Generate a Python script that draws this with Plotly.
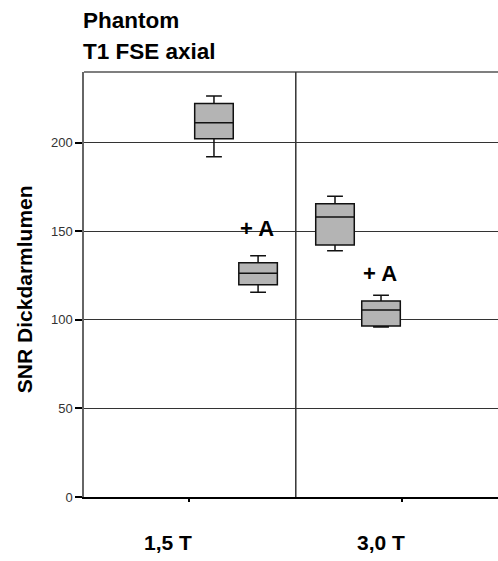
import plotly.graph_objects as go

# ---- data ----
categories = ["1,5 T", "3,0 T"]
groups = ["ohne KM", "+ A"]
box_category = [0, 0, 1, 1]
box_group = [0, 1, 0, 1]
lower_whisker = [192.1, 115.6, 139.1, 96.0]
q1_values = [202.3, 119.9, 142.3, 96.6]
median_values = [211.3, 126.3, 158.1, 105.6]
q3_values = [222.2, 132.3, 165.6, 110.7]
upper_whisker = [226.5, 136.3, 169.9, 113.9]
y_ticks = [0, 50, 100, 150, 200]
label_A = "+ A"
label_A_y = [151.5, 126.0]
title_lines = ["Phantom", "T1 FSE axial"]
y_title = "SNR Dickdarmlumen"

# ---- layout constants ----
box_offsets = [[0.116, 0.323], [-0.316, -0.100]]
label_A_offsets = [0.318, -0.105]
cat_label_offset = -0.1
W, H = 498, 561
ML, MR, MT, MB = 84, 0, 72, 64
FONT = "Liberation Sans, Arial, sans-serif"

box_x = [box_category[i] + box_offsets[box_category[i]][box_group[i]] for i in range(4)]

fig = go.Figure()
fig.add_trace(go.Box(
    x=box_x,
    q1=q1_values, median=median_values, q3=q3_values,
    lowerfence=lower_whisker, upperfence=upper_whisker,
    width=0.181, whiskerwidth=0.41,
    fillcolor="#b4b4b4",
    line=dict(color="#111111", width=1.5),
    boxpoints=False, hoverinfo="skip", showlegend=False,
))

annotations = []
# "+ A" labels
for c in range(2):
    annotations.append(dict(
        x=c + label_A_offsets[c], y=label_A_y[c], xref="x", yref="y",
        text="<b>%s</b>" % label_A, showarrow=False, xanchor="center", yanchor="middle",
        font=dict(family=FONT, size=22, color="#000000")
    ))
# category labels
for c, name in enumerate(categories):
    annotations.append(dict(
        x=c + cat_label_offset, y=-0.108, xref="x", yref="paper",
        text="<b>%s</b>" % name, showarrow=False, xanchor="center", yanchor="middle",
        font=dict(family=FONT, size=21, color="#000000")
    ))
# title lines
annotations.append(dict(x=-0.008, y=1.122, xref="paper", yref="paper", text="<b>%s</b>" % title_lines[0],
                        showarrow=False, xanchor="left", yanchor="middle",
                        font=dict(family=FONT, size=22.5, color="#000000")))
annotations.append(dict(x=-0.008, y=1.049, xref="paper", yref="paper", text="<b>%s</b>" % title_lines[1],
                        showarrow=False, xanchor="left", yanchor="middle",
                        font=dict(family=FONT, size=22.5, color="#000000")))
# y title
annotations.append(dict(x=-0.145, y=0.489, xref="paper", yref="paper", text="<b>%s</b>" % y_title,
                        showarrow=False, xanchor="center", yanchor="middle", textangle=-90,
                        font=dict(family=FONT, size=21, color="#000000")))

shapes = [
    # top frame line
    dict(type="line", xref="paper", yref="paper", x0=0, x1=1, y0=1, y1=1,
         line=dict(color="#555555", width=1.5), layer="below"),
    # divider between categories
    dict(type="line", xref="x", yref="paper", x0=0.5, x1=0.5, y0=0, y1=1,
         line=dict(color="#333333", width=1.5), layer="below"),
]

fig.update_layout(
    width=W, height=H,
    margin=dict(l=ML, r=MR, t=MT, b=MB, pad=0),
    paper_bgcolor="white", plot_bgcolor="white",
    annotations=annotations, shapes=shapes,
    showlegend=False,
)
fig.update_xaxes(
    range=[-0.494, 1.449], showgrid=False, zeroline=False,
    showline=True, linecolor="#000000", linewidth=2,
    tickmode="array", tickvals=[0, 1], ticktext=["", ""],
    ticks="outside", ticklen=3, tickwidth=2, tickcolor="#000000",
)
fig.update_yaxes(
    range=[0, 240], showgrid=True, gridcolor="#333333", gridwidth=1,
    zeroline=False, showline=True, linecolor="#666666", linewidth=1.5,
    tickmode="array", tickvals=y_ticks,
    ticks="outside", ticklen=7, tickwidth=2, tickcolor="#000000",
    tickfont=dict(family=FONT, size=13, color="#333333"),
)

fig.write_html("out.html")
